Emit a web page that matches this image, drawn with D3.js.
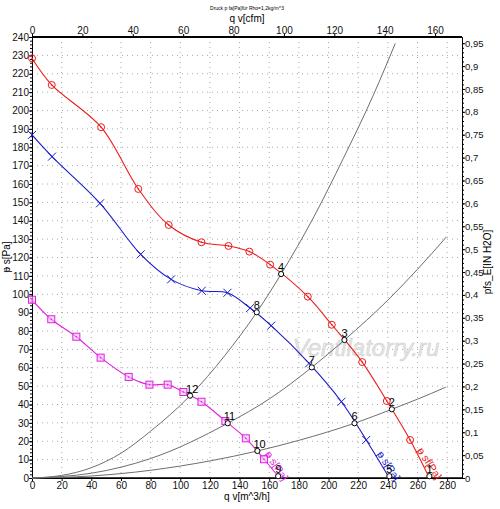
<!DOCTYPE html>
<html lang="de">
<head>
<meta charset="utf-8">
<title>Kennlinie</title>
<script src="https://cdn.jsdelivr.net/npm/d3@7"></script>
<style>
  body { margin: 0; background: #fff; }
  text { font-family: "Liberation Sans", Arial, sans-serif; }
</style>
</head>
<body>
<script>
// fan curves: q in m^3/h, p in Pa
var redQ = [0, 13.3, 46.6, 71.7, 92.2, 114.3, 132.5, 146.6, 160.6, 186, 202.2, 222.7, 239.3, 255, 268];
var redP = [228.4, 213.9, 190.9, 157.3, 137.7, 128.3, 126.3, 123.2, 116.1, 98.7, 83.4, 63.1, 41.9, 20.7, 0];
var blueQ = [0, 13.5, 45.9, 73.3, 93.8, 114.5, 131.8, 147.1, 161.3, 186.9, 208.7, 225.4, 241];
var blueP = [186.7, 174.9, 149.5, 121.7, 108.1, 101.9, 100.8, 92.5, 82.9, 62.4, 41.5, 20.7, 0];
var pinkQ = [0, 13, 29.9, 46.3, 65.2, 79.2, 91.5, 102.1, 114.3, 130.4, 144.2, 156.5, 167];
var pinkP = [97, 86.4, 76.9, 65.5, 55, 50.8, 50.8, 46.8, 41.5, 31, 21.6, 10.2, 0];

// system curves (grey)
var sysAQ = [0, 20, 40, 60, 80, 106.6, 130, 151.6, 168, 190, 210, 230, 245];
var sysAP = [0, 1.4, 5.6, 13.5, 25.5, 44.8, 66.6, 90.2, 111, 142, 174, 208, 236.5];
var sysBQ = [0, 40, 80, 132, 160, 188.7, 210.7, 240, 260, 279.6];
var sysBP = [0, 2.6, 10.6, 29.8, 43, 60.2, 75.1, 96.8, 113.6, 131.3];
var sysCQ = [0, 40, 80, 120, 152, 180, 217.5, 242.7, 260, 279];
var sysCP = [0, 1.1, 4.2, 9.3, 14.7, 20.5, 29.8, 37.4, 42.9, 49.4];

// operating points
var opNum = ["1", "2", "3", "4", "5", "6", "7", "8", "9", "10", "11", "12"];
var opQ = [268, 242.7, 210.7, 168, 241, 217.5, 188.7, 151.6, 166, 152, 132, 106.6];
var opP = [1, 37.4, 75.1, 111, 1, 29.8, 60.2, 90.2, 1, 14.7, 29.8, 44.8];

// tick values
var qTicks = d3.range(0, 281, 20);
var cfmTicks = d3.range(0, 161, 20);
var paTicks = d3.range(0, 241, 10);
var inTicks = d3.range(0, 20).map(function (i) { return i * 0.05; });

var W = 500, H = 509;
var padL = 32, padR = 462, padT = 37, padB = 478;
var qMax = 290, pMax = 240;
var CFM = 0.588578, INH2O = 249.089;

var svg = d3.select("body").append("svg").attr("width", W).attr("height", H);
svg.append("rect").attr("width", W).attr("height", H).attr("fill", "#fff");

var x = d3.scaleLinear().domain([0, qMax]).range([padL, padR]);
var y = d3.scaleLinear().domain([0, pMax]).range([padB, padT]);
var xTop = d3.scaleLinear().domain([0, qMax * CFM]).range([padL, padR]);
var yRight = d3.scaleLinear().domain([0, pMax / INH2O]).range([padB, padT]);

// dotted grid
svg.append("g").selectAll("line").data(qTicks.slice(1)).enter().append("line")
  .attr("x1", function (d) { return x(d); }).attr("x2", function (d) { return x(d); })
  .attr("y1", padT).attr("y2", padB)
  .attr("stroke", "#aaa").attr("stroke-dasharray", "1,4");
svg.append("g").selectAll("line").data(paTicks.slice(1)).enter().append("line")
  .attr("x1", padL).attr("x2", padR)
  .attr("y1", function (d) { return y(d); }).attr("y2", function (d) { return y(d); })
  .attr("stroke", "#aaa").attr("stroke-dasharray", "1,4");

function comma(d) {
  if (Math.abs(d) < 1e-9) return "0";
  return d3.format(".2~f")(d).replace(".", ",");
}

// axes
var gl = svg.append("g").attr("transform", "translate(" + padL + ",0)")
  .call(d3.axisLeft(y).tickValues(paTicks).tickSize(3).tickSizeOuter(0));
svg.append("g").attr("transform", "translate(" + padL + ",0)")
  .call(d3.axisLeft(y).tickValues(d3.range(0, 241, 2)).tickSize(2).tickFormat("").tickSizeOuter(0));
var gb = svg.append("g").attr("transform", "translate(0," + padB + ")")
  .call(d3.axisBottom(x).tickValues(qTicks).tickSize(3).tickSizeOuter(0));
var gt = svg.append("g").attr("transform", "translate(0," + padT + ")")
  .call(d3.axisTop(xTop).tickValues(cfmTicks).tickSize(3).tickSizeOuter(0));
var gr = svg.append("g").attr("transform", "translate(" + padR + ",0)")
  .call(d3.axisRight(yRight).tickValues(inTicks).tickFormat(comma).tickSize(3).tickSizeOuter(0));
svg.append("g").attr("transform", "translate(" + padR + ",0)")
  .call(d3.axisRight(yRight).tickValues(d3.range(0, 96).map(function (i) { return i * 0.01; }))
    .tickSize(2).tickFormat("").tickSizeOuter(0));

svg.selectAll(".domain").attr("stroke", "#000");
svg.selectAll(".tick line").attr("stroke", "#000");
svg.selectAll(".tick text").attr("font-size", "10px").attr("fill", "#111")
  .attr("font-family", "Liberation Sans, Arial, sans-serif");
gl.selectAll(".tick text").attr("x", -3);
gb.selectAll(".tick text").attr("y", 4);
gt.selectAll(".tick text").attr("y", -3);
gr.selectAll(".tick text").attr("x", 3).attr("font-size", "9.5px");

// heavier frame top and bottom
svg.append("line").attr("x1", padL).attr("x2", padR).attr("y1", padT).attr("y2", padT)
  .attr("stroke", "#000").attr("stroke-width", 2);
svg.append("line").attr("x1", padL).attr("x2", padR).attr("y1", padB).attr("y2", padB)
  .attr("stroke", "#000").attr("stroke-width", 1.5);

// watermark
svg.append("text").attr("x", 366).attr("y", 356).attr("text-anchor", "middle")
  .attr("font-size", "24px").attr("font-style", "italic")
  .attr("fill", "#e4e4e4").attr("stroke", "#d0d0d0").attr("stroke-width", 0.5)
  .text("Ventilatorry.ru");

function pts(qs, ps) { return qs.map(function (q, i) { return [q, ps[i]]; }); }
var sysLine = d3.line().x(function (d) { return x(d[0]); }).y(function (d) { return y(d[1]); })
  .curve(d3.curveMonotoneX);
var fanLine = d3.line().x(function (d) { return x(d[0]); }).y(function (d) { return y(d[1]); })
  .curve(d3.curveCatmullRom.alpha(0.5));

// system curves
[[sysAQ, sysAP], [sysBQ, sysBP], [sysCQ, sysCP]].forEach(function (s) {
  svg.append("path").datum(pts(s[0], s[1])).attr("d", sysLine)
    .attr("fill", "none").attr("stroke", "#6e6e6e").attr("stroke-width", 1);
});

var red = "#ec1c1c", blue = "#1a1acc", pink = "#e01ee0";

// fan curves
var fan = [
  { q: pinkQ, p: pinkP, c: pink, m: "square" },
  { q: blueQ, p: blueP, c: blue, m: "cross" },
  { q: redQ, p: redP, c: red, m: "circle" }
];
fan.forEach(function (f) {
  var data = pts(f.q, f.p);
  svg.append("path").datum(data).attr("d", fanLine)
    .attr("fill", "none").attr("stroke", f.c).attr("stroke-width", 1.1);
  var g = svg.append("g").selectAll("g").data(data.slice(0, data.length - 1)).enter().append("g")
    .attr("transform", function (d) { return "translate(" + x(d[0]) + "," + y(d[1]) + ")"; });
  if (f.m === "circle") {
    g.append("circle").attr("r", 3.5).attr("fill", "none").attr("stroke", f.c);
    g.append("circle").attr("r", 0.8).attr("fill", f.c);
  } else if (f.m === "square") {
    g.append("rect").attr("x", -3.5).attr("y", -3.5).attr("width", 7).attr("height", 7)
      .attr("fill", "#f6c8f6").attr("fill-opacity", 0.6).attr("stroke", f.c);
    g.append("circle").attr("r", 0.8).attr("fill", f.c);
  } else {
    g.append("path").attr("d", "M-4,-4L4,4M-4,4L4,-4").attr("stroke", f.c).attr("stroke-width", 1);
  }
});

// curve names along the curves
var names = [
  { t: "ᵽ s[Pa]", c: pink, q: 157, p: 13 },
  { t: "ᵽ s[Pa]", c: blue, q: 232.5, p: 13 },
  { t: "ᵽ sf[Pa]", c: red, q: 259.5, p: 15 }
];
names.forEach(function (n) {
  svg.append("text").attr("transform", "translate(" + x(n.q) + "," + y(n.p) + ") rotate(57)")
    .attr("font-size", "10.5px").attr("fill", n.c).text(n.t);
});

// operating points
var op = svg.append("g").selectAll("g").data(opNum).enter().append("g")
  .attr("transform", function (d, i) { return "translate(" + x(opQ[i]) + "," + y(opP[i]) + ")"; });
op.append("circle").attr("r", 2.6).attr("fill", "#fff").attr("stroke", "#000").attr("stroke-width", 1);
op.append("text").attr("x", function (d) { return d.length > 1 ? -4 : -3; }).attr("y", -3)
  .attr("font-size", "11px").attr("fill", "#000").text(function (d) { return d; });

// titles
svg.append("text").attr("x", 247).attr("y", 10).attr("text-anchor", "middle")
  .attr("font-size", "5px").text("Druck p fa[Pa]für Rho=1,2kg/m^3");
svg.append("text").attr("x", 247).attr("y", 22).attr("text-anchor", "middle")
  .attr("font-size", "10px").text("q v[cfm]");
svg.append("text").attr("x", 247).attr("y", 500).attr("text-anchor", "middle")
  .attr("font-size", "10px").text("q v[m^3/h]");
svg.append("text").attr("transform", "translate(10,257) rotate(-90)").attr("text-anchor", "middle")
  .attr("font-size", "10px").text("ᵽ s[Pa]");
svg.append("text").attr("transform", "translate(491,262) rotate(-90)").attr("text-anchor", "middle")
  .attr("font-size", "10px").text("pfs_E[IN H2O]");
</script>
</body>
</html>
